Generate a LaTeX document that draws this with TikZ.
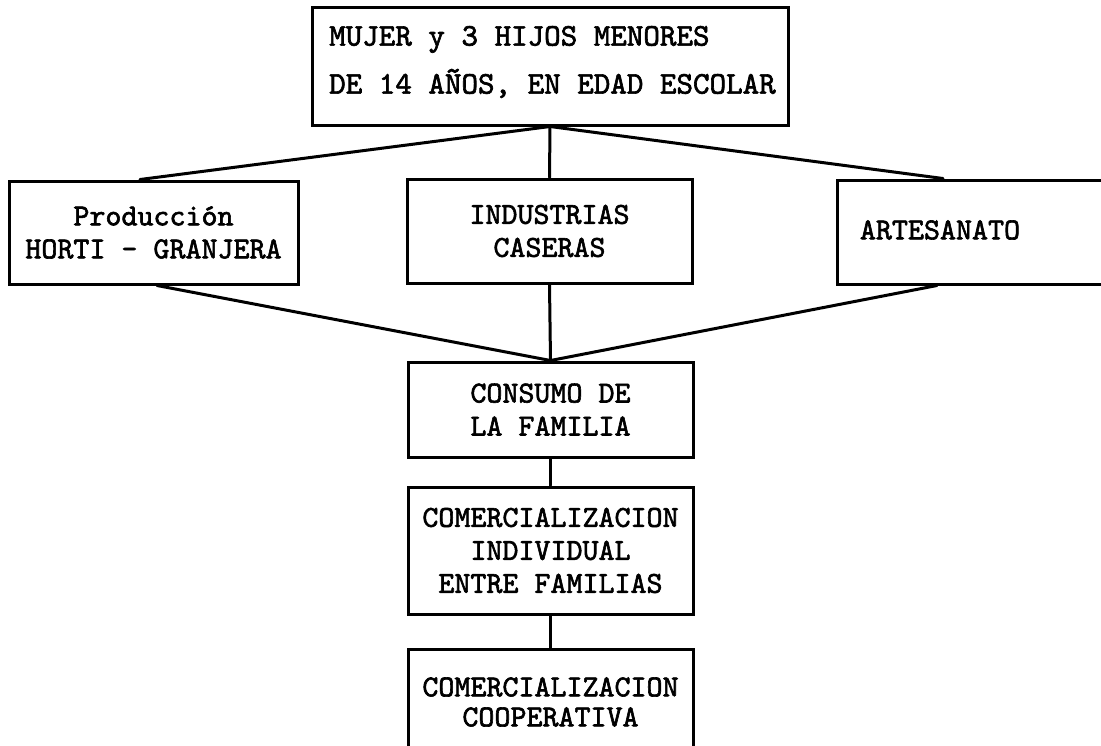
\documentclass[tikz,border=0pt]{standalone}
\usepackage{fontspec}
\newfontfamily\tw{lmmono10-regular.otf}[FakeBold=2]
\begin{document}
\begin{tikzpicture}[x=1pt,y=-1pt,
  box/.style={draw, line width=3pt, rectangle, inner sep=0pt, align=center,
    font={\tw\fontsize{30.5}{33}\selectfont}},
  txt/.style={inner sep=0pt, align=center, font={\tw\fontsize{30.5}{33}\selectfont}},
  conn/.style={line width=3pt, line cap=round}]
\useasboundingbox (0,0) rectangle (1101,745);
\clip (0,0) rectangle (1101,745);
% boxes
\node[box, minimum width=476pt, minimum height=118pt] (top) at (550,66) {};
\node[txt, anchor=west, align=left, font={\tw\fontsize{31.5}{48}\selectfont}] (toptxt) at (329,62)
  {MUJER y 3 HIJOS MENORES\\DE 14 AÑOS, EN EDAD ESCOLAR};
\node[box, minimum width=289pt, minimum height=103pt] (hort) at (153.5,232.5) {Producción\\HORTI - GRANJERA};
\node[box, minimum width=285pt, minimum height=104pt] (ind) at (549.5,231) {INDUSTRIAS\\CASERAS};
\node[box, anchor=west, minimum width=320pt, minimum height=104pt] (art) at (836,232) {};
\node[txt] (arttxt) at (940,230) {ARTESANATO};
\node[box, minimum width=285pt, minimum height=95pt] (cons) at (550.5,409.5) {CONSUMO DE\\LA FAMILIA};
\node[box, minimum width=285pt, minimum height=127pt] (comind) at (550.5,550.5) {COMERCIALIZACION\\INDIVIDUAL\\ENTRE FAMILIAS};
\node[box, anchor=north, minimum width=285pt, minimum height=150pt] (coop) at (550.5,648) {};
\node[txt, font={\tw\fontsize{30.5}{30}\selectfont}] (cooptxt) at (550.5,702) {COMERCIALIZACION\\COOPERATIVA};
% connector ends
\coordinate (hortN) at ([xshift=-13.5pt]hort.north);
\coordinate (hortS) at ([xshift=3.5pt]hort.south);
\coordinate (artN) at ([xshift=107pt]art.north west);
\coordinate (artS) at ([xshift=101pt]art.south west);
% connectors
\draw[conn] (top.south) -- (ind.north);
\draw[conn] (top.south) -- (hortN);
\draw[conn] (top.south) -- (artN);
\draw[conn] (ind.south) -- (cons.north);
\draw[conn] (cons.north) -- (hortS);
\draw[conn] (cons.north) -- (artS);
\draw[conn] (cons.south) -- (comind.north);
\draw[conn] (comind.south) -- (coop.north);
\end{tikzpicture}
\end{document}
